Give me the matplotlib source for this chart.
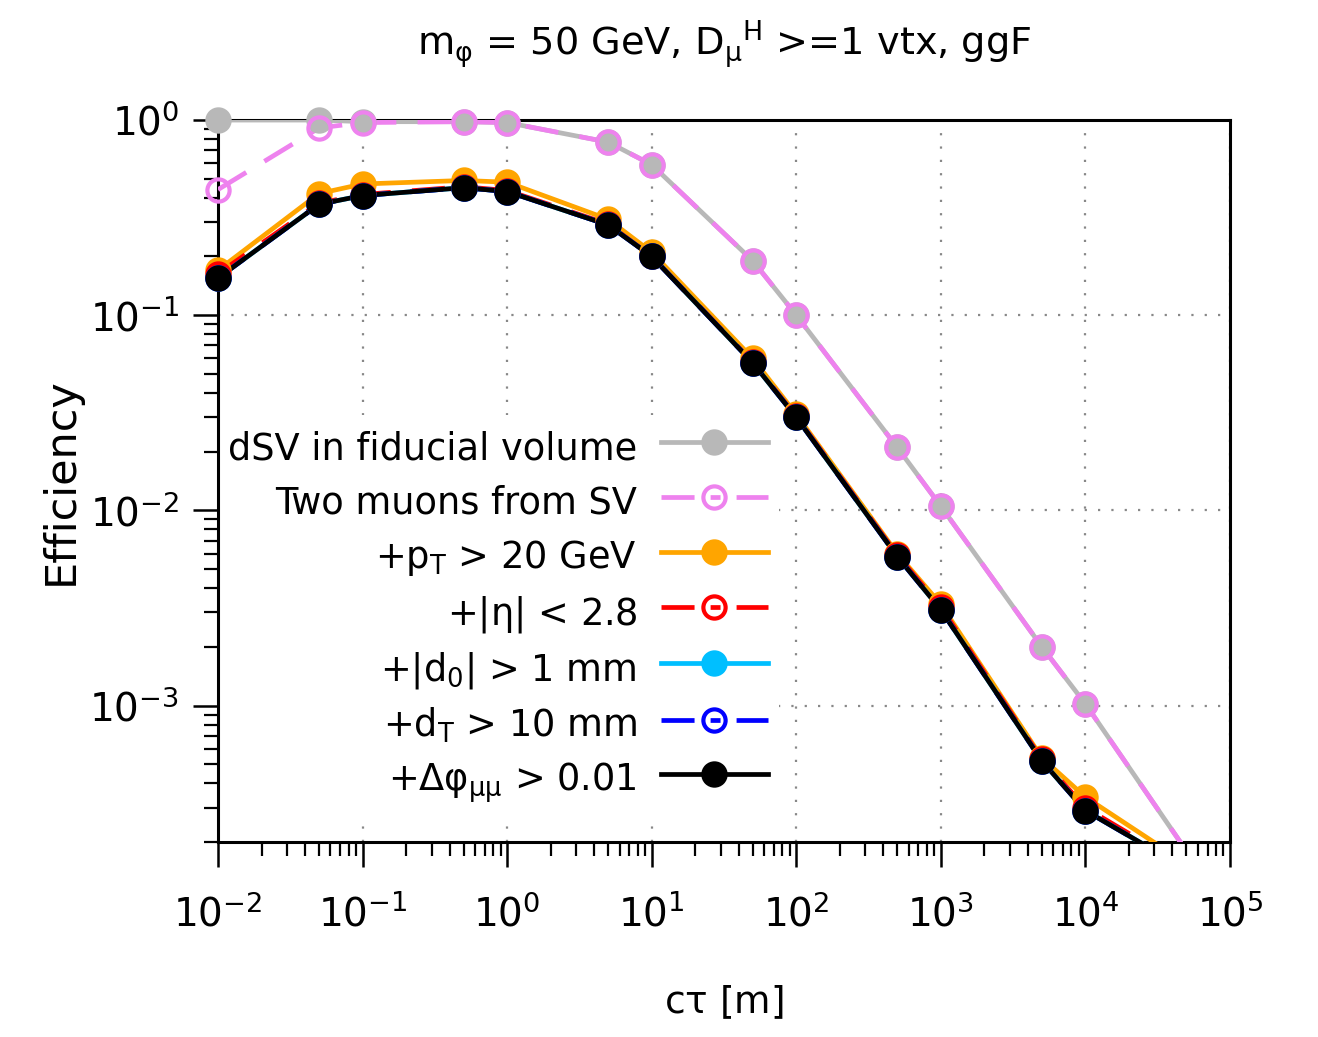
import numpy as np
import matplotlib
matplotlib.use('Agg')
import matplotlib.pyplot as plt
from matplotlib.lines import Line2D
from matplotlib.ticker import LogLocator, NullFormatter

plt.rcParams['font.family'] = ['DejaVu Sans']
plt.rcParams['mathtext.fontset'] = 'dejavusans'
plt.rcParams['mathtext.default'] = 'regular'
plt.rcParams['axes.unicode_minus'] = False

# c*tau points [m]
ctau = [0.01, 0.05, 0.1, 0.5, 1, 5, 10, 50, 100, 500, 1000, 5000, 10000, 50000]

# cumulative efficiencies
eff_dsv = [1.0, 1.0, 0.98, 0.98, 0.97, 0.77, 0.59, 0.19, 0.10, 0.021, 0.0105, 0.0020, 0.00102, 0.00018]
eff_2mu = [0.44, 0.91, 0.97, 0.98, 0.97, 0.77, 0.59, 0.19, 0.10, 0.021, 0.0105, 0.0020, 0.00102, 0.00018]
eff_pt = [0.17, 0.42, 0.47, 0.49, 0.48, 0.31, 0.21, 0.060, 0.031, 0.0060, 0.0033, 0.00054, 0.00034, 0.000155]
eff_eta = [0.163, 0.375, 0.415, 0.455, 0.435, 0.293, 0.20, 0.0575, 0.0303, 0.0059, 0.0032, 0.00053, 0.00030, 0.000148]
eff_d0 = [0.155, 0.37, 0.41, 0.45, 0.43, 0.29, 0.20, 0.057, 0.030, 0.0058, 0.0031, 0.00052, 0.00029, 0.000145]
eff_dt = [0.155, 0.37, 0.41, 0.45, 0.43, 0.29, 0.20, 0.057, 0.030, 0.0058, 0.0031, 0.00052, 0.00029, 0.000145]
eff_dphi = [0.155, 0.37, 0.41, 0.45, 0.43, 0.29, 0.20, 0.057, 0.030, 0.0058, 0.0031, 0.00052, 0.00029, 0.000145]

labels = ['dSV in fiducial volume', 'Two muons from SV', r'+p$_T$ > 20 GeV',
          r'+|$\eta$| < 2.8', r'+|d$_0$| > 1 mm', r'+d$_T$ > 10 mm',
          r'+$\Delta\varphi_{\mu\mu}$ > 0.01']
series = [eff_dsv, eff_2mu, eff_pt, eff_eta, eff_d0, eff_dt, eff_dphi]
colors = ['#b8b8b8', '#ee82ee', '#ffa500', '#ff0000', '#00bfff', '#0000ff', '#000000']
dashed = [False, True, False, True, False, True, False]

ymin, ymax = 2e-4, 1.0

fig = plt.figure(figsize=(13.18, 10.37), dpi=100)
ax = fig.add_axes([0.1654, 0.188, 0.9332 - 0.1654, 0.8843 - 0.188])

lw = 3.4
ms = 16
plot_dash = (0, (7, 4.5))
leg_dash = (0, (7.0, 3.4, 2.1, 3.4, 7.0, 9))
handles = []
for lab, y, c, d in zip(labels, series, colors, dashed):
    ax.plot(ctau, y, color=c, lw=lw, linestyle=plot_dash if d else '-', zorder=3)
    # markers drawn unclipped, only for points inside the y range
    x = np.array(ctau)
    yy = np.array(y)
    m = yy >= ymin
    fc = 'none' if d else c
    ax.plot(x[m], yy[m], linestyle='none', marker='o', ms=ms, mfc=fc, mec=c,
            mew=3.0, clip_on=False, zorder=4)
    handles.append(Line2D([], [], color=c, lw=lw, linestyle=leg_dash if d else '-',
                          marker='o', ms=ms, mfc=fc, mec=c, mew=3.0, label=lab))

ax.set_xscale('log')
ax.set_yscale('log')
ax.set_xlim(1e-2, 1e5)
ax.set_ylim(ymin, ymax)

ax.xaxis.set_major_locator(LogLocator(base=10, numticks=20))
ax.xaxis.set_minor_locator(LogLocator(base=10, subs=np.arange(2, 10), numticks=100))
ax.yaxis.set_major_locator(LogLocator(base=10, numticks=20))
ax.yaxis.set_minor_locator(LogLocator(base=10, subs=np.arange(2, 10), numticks=100))
ax.xaxis.set_minor_formatter(NullFormatter())
ax.yaxis.set_minor_formatter(NullFormatter())

ax.tick_params(which='major', direction='out', length=18, width=1.8, labelsize=28)
ax.tick_params(axis='x', which='major', pad=20)
ax.tick_params(axis='y', which='major', pad=10)
ax.tick_params(which='minor', direction='out', length=10, width=1.6)
ax.tick_params(top=False, right=False)
for s in ax.spines.values():
    s.set_linewidth(2.2)

ax.grid(True, which='major', linestyle=(0, (1, 5)), color='#888888', lw=1.6, zorder=0)

ax.set_xlabel(r'c$\tau$ [m]', fontsize=27)
ax.xaxis.set_label_coords(0.5, -0.196)
ax.set_ylabel('Efficiency', fontsize=31)
ax.yaxis.set_label_coords(-0.135, 0.5)
ax.set_title(r'm$_\varphi$ = 50 GeV, D$_\mu$$^H$ >=1 vtx, ggF', fontsize=27.5, pad=46)

leg = ax.legend(handles=handles, loc='upper right', bbox_to_anchor=(0.554, 0.592),
                markerfirst=False, fontsize=26.5, frameon=True, framealpha=1,
                edgecolor='none', facecolor='white', fancybox=False,
                handlelength=2.9, handleheight=1.4, handletextpad=0.65,
                labelspacing=0.33, borderpad=0.3, borderaxespad=0)
leg.set_zorder(2.4)

fig.savefig('out.png', dpi=100)
